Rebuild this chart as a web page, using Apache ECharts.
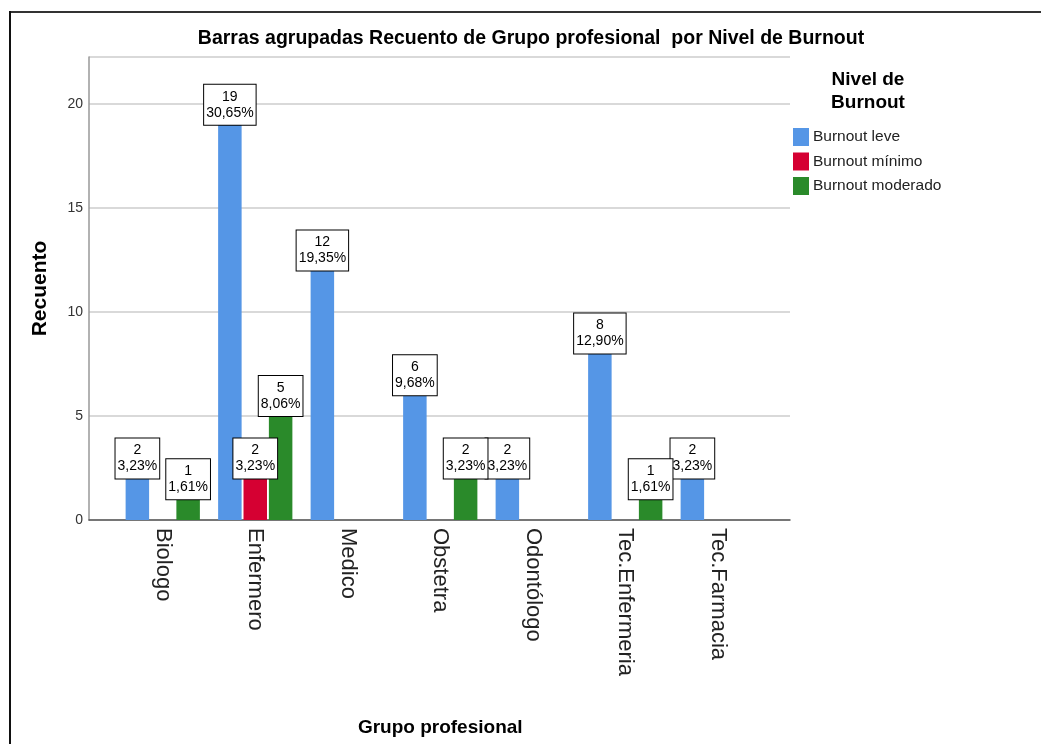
<!DOCTYPE html>
<html>
<head>
<meta charset="utf-8">
<script src="https://cdn.jsdelivr.net/npm/echarts@6/dist/echarts.min.js"></script>
<style>
html,body{margin:0;padding:0;background:#fff;}
#c{width:1041px;height:744px;}
</style>
</head>
<body>
<div id="c"></div>
<script>
const categories = ['Biologo', 'Enfermero', 'Medico', 'Obstetra', 'Odontólogo', 'Tec.Enfermeria', 'Tec.Farmacia'];
const seriesNames = ['Burnout leve', 'Burnout mínimo', 'Burnout moderado'];
const leve = [2, 19, 12, 6, 2, 8, 2];
const minimo = [null, 2, null, null, null, null, null];
const moderado = [1, 5, null, 2, null, 1, null];
const yTicks = [0, 5, 10, 15, 20];
const colors = ['#5596E6', '#D50032', '#2A8A2A'];

const allVals = [leve, minimo, moderado];
const total = allVals.reduce((s, arr) => s + arr.reduce((a, v) => a + (v || 0), 0), 0);

const FONT = '"Liberation Sans", Arial, sans-serif';

function labelFmt(p) {
  const pct = (p.value / total * 100).toFixed(2).replace('.', ',');
  return p.value + '\n' + pct + '%';
}

const chart = echarts.init(document.getElementById('c'), null, {renderer: 'canvas'});

const yMax = 22.26;

const option = {
  animation: false,
  backgroundColor: '#fff',
  textStyle: {fontFamily: FONT},
  title: [
    {
      text: 'Barras agrupadas Recuento de Grupo profesional  por Nivel de Burnout',
      left: 531, top: 29, textAlign: 'center', padding: 0,
      textStyle: {fontFamily: FONT, fontSize: 19.5, fontWeight: 'bold', color: '#000'}
    },
    {
      text: 'Nivel de\nBurnout',
      left: 868, top: 68, textAlign: 'center', padding: 0,
      textStyle: {fontFamily: FONT, fontSize: 19, fontWeight: 'bold', color: '#000', lineHeight: 23}
    }
  ],
  legend: {
    orient: 'vertical',
    left: 793, top: 128,
    icon: 'rect',
    itemWidth: 16, itemHeight: 18, itemGap: 6.5,
    padding: 0,
    data: seriesNames,
    textStyle: {fontFamily: FONT, fontSize: 15.5, color: '#222', padding: [0, 0, 0, -1]}
  },
  graphic: [
    {type: 'line', shape: {x1: 9, y1: 12, x2: 1041, y2: 12}, style: {stroke: '#333', lineWidth: 2}},
    {type: 'line', shape: {x1: 10, y1: 11, x2: 10, y2: 744}, style: {stroke: '#111', lineWidth: 2}}
  ],
  grid: [
    {left: 89, top: 57, width: 701, height: 463},
    {left: 116.5, top: 57, width: 647.5, height: 463}
  ],
  xAxis: [
    {
      gridIndex: 0, type: 'value', min: 0, max: 1,
      axisLine: {show: true, lineStyle: {color: '#555', width: 1.5}},
      axisTick: {show: false}, axisLabel: {show: false}, splitLine: {show: false}
    },
    {
      gridIndex: 1, type: 'category', data: categories,
      axisLine: {show: false}, axisTick: {show: false},
      axisLabel: {rotate: -90, margin: 8, fontSize: 22, color: '#222', fontFamily: FONT},
      name: 'Grupo profesional', nameLocation: 'middle', nameGap: 198,
      nameTextStyle: {fontFamily: FONT, fontSize: 19, fontWeight: 'bold', color: '#000'}
    }
  ],
  yAxis: [
    {
      gridIndex: 0, type: 'value', min: 0, max: yMax, interval: 5,
      axisLine: {show: true, lineStyle: {color: '#999', width: 1.5}},
      axisTick: {show: false},
      axisLabel: {
        margin: 6, fontSize: 14, color: '#333', fontFamily: FONT,
        formatter: v => (yTicks.indexOf(v) >= 0 ? String(v) : '')
      },
      splitLine: {show: true, lineStyle: {color: '#cccccc', width: 1.5}},
      name: 'Recuento', nameLocation: 'middle', nameGap: 38, nameRotate: 90,
      nameTextStyle: {fontFamily: FONT, fontSize: 21, fontWeight: 'bold', color: '#000'}
    },
    {
      gridIndex: 1, type: 'value', min: 0, max: yMax, interval: 5, show: false,
      splitLine: {show: false}
    }
  ],
  series: allVals.map((arr, i) => ({
    name: seriesNames[i],
    type: 'bar',
    xAxisIndex: 1, yAxisIndex: 1,
    data: arr,
    barWidth: 23.5,
    barGap: '8%',
    itemStyle: {color: colors[i]},
    label: {
      show: true, position: 'top', distance: 0,
      formatter: labelFmt,
      fontFamily: FONT, fontSize: 14, lineHeight: 16, color: '#000',
      backgroundColor: '#fff', borderColor: '#000', borderWidth: 1,
      padding: [4, 2, 4, 2]
    }
  }))
};

chart.setOption(option);
</script>
</body>
</html>
